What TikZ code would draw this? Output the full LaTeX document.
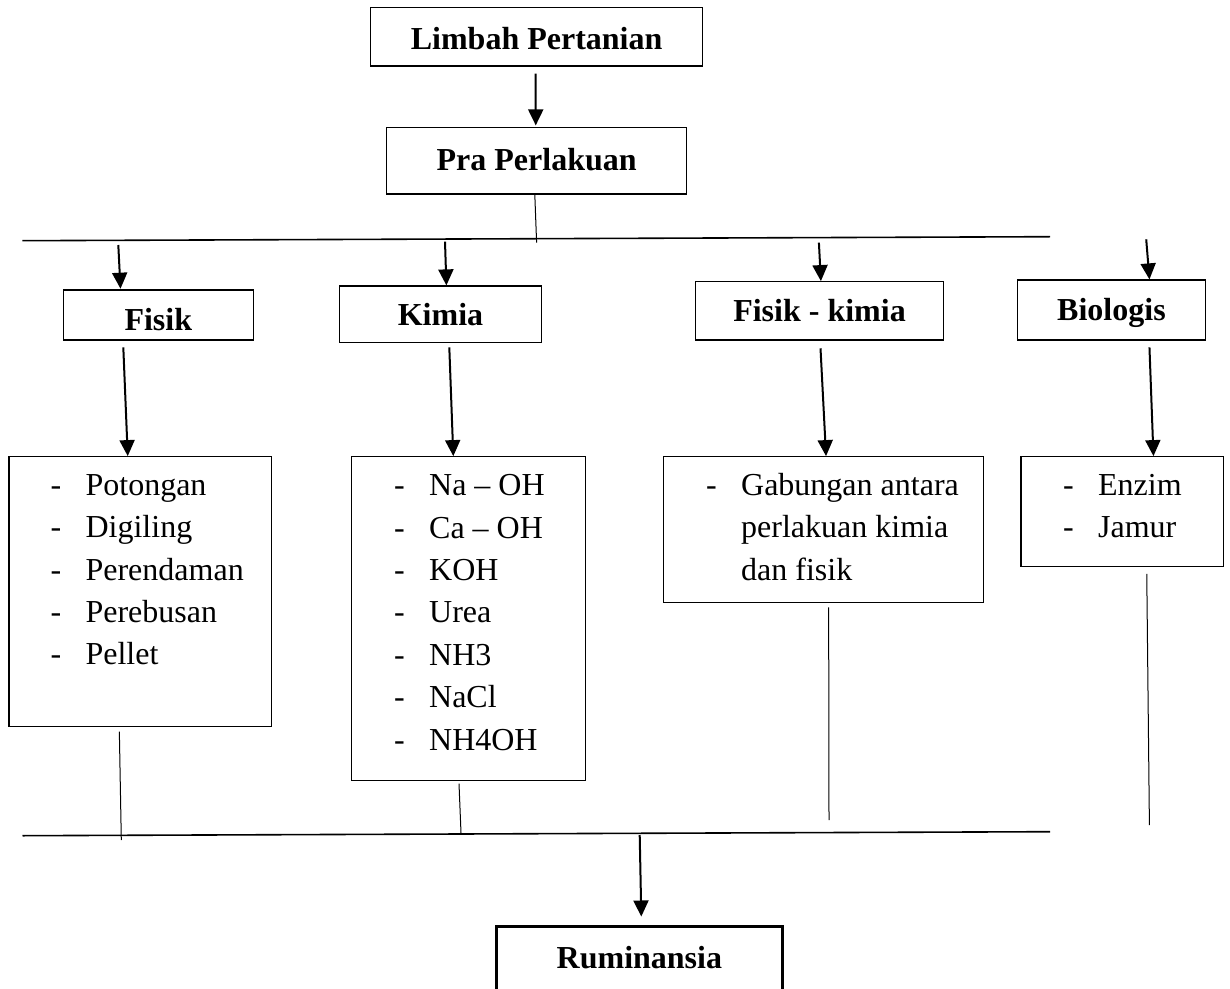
\documentclass[tikz,border=0pt]{standalone}
\usepackage{fontspec}
\setmainfont{Liberation Serif}
\usetikzlibrary{arrows.meta}

\newcommand\sz{\fontsize{16}{21.2}\selectfont}
\newcommand\dashitem[1]{\strut\makebox[17.5pt][l]{-}#1}
\newcommand\dashcont[1]{\strut\hspace{17.5pt}#1}

\tikzset{
    box/.style={draw, line width=0.6pt, inner sep=0pt, font=\sz\bfseries, text height=11pt, text depth=0pt},
    listbox/.style={draw, line width=0.6pt, inner sep=0pt},
    listtext/.style={anchor=north west, inner sep=0pt, align=left, font=\sz},
    arr/.style={-{Triangle[length=8pt,width=7.5pt]}, line width=1pt},
    link/.style={line width=0.5pt},
    rail/.style={line width=0.8pt}
}

\begin{document}
\begin{tikzpicture}[x=0.5pt, y=-0.5pt]
    \useasboundingbox (0,0) rectangle (1230,989);
    \clip (0,0) rectangle (1230,989);

    \node[box, minimum width=166.1pt, minimum height=29.35pt, text height=12.7pt] (limbah) at (536.6,36.65) {Limbah Pertanian};
    \node[box, minimum width=150pt, minimum height=33.15pt, text height=9.2pt] (pra) at (536.65,160.85) {Pra Perlakuan};
    \node[box, minimum width=95pt, minimum height=25pt, text height=16pt] (fisik) at (158.3,315) {Fisik};
    \node[box, minimum width=101.2pt, minimum height=28.15pt] (kimia) at (440.5,314.15) {Kimia};
    \node[box, minimum width=124.3pt, minimum height=29.15pt] (fisikkimia) at (819.5,310.85) {Fisik - kimia};
    \node[box, minimum width=93.75pt, minimum height=30pt] (biologis) at (1111.45,310) {Biologis};
    \node[box, line width=1.5pt, minimum width=142.6pt, minimum height=37pt, text depth=5.7pt] (ruminansia) at (639.4,963) {Ruminansia};

    \node[listbox, minimum width=131.35pt, minimum height=135pt] (fisiklist) at (140.35,591.7) {};
    \node[listbox, minimum width=117pt, minimum height=162pt] (kimialist) at (468.7,618.7) {};
    \node[listbox, minimum width=160.15pt, minimum height=73pt] (gabunganlist) at (823.45,529.7) {};
    \node[listbox, minimum width=101.25pt, minimum height=55pt] (biologislist) at (1122.25,511.7) {};

    \node[listtext] (fisiktext) at (50.2,465.3) {\dashitem{Potongan}\\ \dashitem{Digiling}\\ \dashitem{Perendaman}\\ \dashitem{Perebusan}\\ \dashitem{Pellet}};
    \node[listtext] (kimiatext) at (393.8,465.6) {\dashitem{Na – OH}\\ \dashitem{Ca – OH}\\ \dashitem{KOH}\\ \dashitem{Urea}\\ \dashitem{NH3}\\ \dashitem{NaCl}\\ \dashitem{NH4OH}};
    \node[listtext] (gabungantext) at (705.8,465.3) {\dashitem{Gabungan antara}\\ \dashcont{perlakuan kimia}\\ \dashcont{dan fisik}};
    \node[listtext] (biologistext) at (1062.8,465.3) {\dashitem{Enzim}\\ \dashitem{Jamur}};

    \coordinate (railL) at (22.3,240.7);
    \coordinate (railR) at (1050,236.7);
    \coordinate (pradrop) at (536.6,242.7);
    \coordinate (tF) at (118.3,245);
    \coordinate (tK) at (445,241.7);
    \coordinate (tFK) at (818.9,242.7);
    \coordinate (tB) at (1146.2,239.3);
    \coordinate (railBL) at (22.5,835.7);
    \coordinate (railBR) at (1050,831.7);
    \coordinate (bF) at (121.3,840);
    \coordinate (bK) at (461,833);
    \coordinate (bFK) at (829,820);
    \coordinate (bB) at (1149.4,825);
    \coordinate (bR) at (639.7,835);

    \draw[arr] ([shift={(-0.9,7)}]limbah.south) -- ([shift={(-0.9,-1.7)}]pra.north);
    \draw[link] ([shift={(-1.85,0)}]pra.south) -- (pradrop);
    \draw[rail] (railL) -- (railR);

    \draw[arr] (tF) -- ([shift={(-37.8,-0.7)}]fisik.north);
    \draw[arr] (tK) -- ([shift={(5.9,0)}]kimia.north);
    \draw[arr] (tFK) -- ([shift={(1.4,0)}]fisikkimia.north);
    \draw[arr] (tB) -- ([shift={(38,0)}]biologis.north);

    \draw[arr] ([shift={(-35,6.7)}]fisik.south) -- ([shift={(-12.6,0)}]fisiklist.north);
    \draw[arr] ([shift={(8.8,4.4)}]kimia.south) -- ([shift={(-15.4,0)}]kimialist.north);
    \draw[arr] ([shift={(1,7.7)}]fisikkimia.south) -- ([shift={(2.6,0)}]gabunganlist.north);
    \draw[arr] ([shift={(38,6.7)}]biologis.south) -- ([shift={(31.2,0)}]biologislist.north);

    \draw[link] ([shift={(-21,4.3)}]fisiklist.south) -- (bF);
    \draw[link] ([shift={(-9.7,2.3)}]kimialist.south) -- (bK);
    \draw[link] ([shift={(5.2,4)}]gabunganlist.south) -- (bFK);
    \draw[link] ([shift={(24.5,6.6)}]biologislist.south) -- (bB);
    \draw[rail] (railBL) -- (railBR);

    \draw[arr] (bR) -- ([shift={(1.9,-8)}]ruminansia.north);
\end{tikzpicture}
\end{document}
